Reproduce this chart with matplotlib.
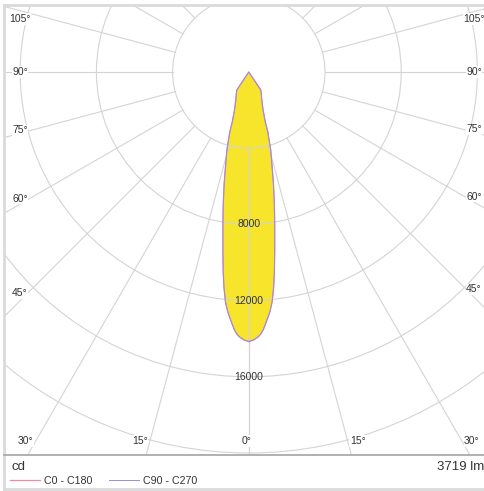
import numpy as np
import matplotlib.pyplot as plt
from matplotlib.patches import Rectangle, Circle

plt.rcParams['font.family'] = ['Liberation Sans', 'DejaVu Sans']

# Luminous intensity (cd) against angle from the downward axis (deg)
angles = [0, 1, 2, 2.6, 3.2, 4, 5, 5.8, 6.6, 7.3, 8.2, 9.2, 9.8, 11.1, 12.5,
          13.8, 15.7, 17.6, 18.3, 20.6, 24.9, 30, 33.7, 37, 60, 90, 120, 150, 180]
c0_c180 = [14150, 14070, 13920, 13770, 13560, 13150, 12650, 12130, 11360, 10580,
           9540, 8510, 7990, 6950, 5970, 5130, 4250, 3300, 2760, 2130, 1620, 1310,
           1130, 0, 0, 0, 0, 0, 0]
c90_c270 = [14150, 14070, 13920, 13770, 13560, 13150, 12650, 12130, 11360, 10580,
            9540, 8510, 7990, 6950, 5970, 5130, 4250, 3300, 2760, 2130, 1620, 1310,
            1130, 0, 0, 0, 0, 0, 0]

rings = [4000, 8000, 12000, 16000, 20000, 24000]
ring_labels = [8000, 12000, 16000]
grid_angles = list(range(0, 181, 15))
label_angles = [0, 15, 30, 45, 60, 75, 90, 105]
flux = '3719 lm'
unit = 'cd'
series_names = ['C0 - C180', 'C90 - C270']

# layout (pixels)
W, H = 485, 491
cx, cy = 248.8, 72.0
s = 4000 / 76.2  # cd per pixel
grid_col = '#d4d4d4'
txt_col = '#333333'


def P(xp, yp):
    return (xp - cx) * s, (cy - yp) * s


def curve(a, vals):
    a = np.radians(np.asarray(a, float))
    v = np.asarray(vals, float)
    # right half (C0 / C90), then mirrored left half (C180 / C270)
    xr, yr = v * np.sin(a), -v * np.cos(a)
    x = np.concatenate([xr, -xr[::-1]])
    y = np.concatenate([yr, yr[::-1]])
    return x, y


fig = plt.figure(figsize=(W / 100, H / 100), dpi=100)
ax = fig.add_axes([0, 0, 1, 1])
ax.set_xlim(-cx * s, (W - cx) * s)
ax.set_ylim(-(H - cy) * s, cy * s)
ax.axis('off')

# plot area
x0, y0 = P(4, 455)
frame = Rectangle((x0, y0), 490 * s, 450.5 * s, fill=False, ec='none')
ax.add_patch(frame)

# light distribution curves
x1, y1 = curve(angles, c0_c180)
x2, y2 = curve(angles, c90_c270)
ax.fill(x1, y1, color='#f6e52a', zorder=1, lw=0)
l1, = ax.plot(x1, y1, color='#f08c9c', lw=0.9, zorder=3, label=series_names[0])
l2, = ax.plot(x2, y2, color='#9a8ce0', lw=0.7, zorder=3, label=series_names[1])

# polar grid
for r in rings:
    c = Circle((0, 0), r, fill=False, ec=grid_col, lw=0.8, zorder=2)
    ax.add_patch(c)
    c.set_clip_path(frame)
for a in grid_angles:
    t = np.radians(a)
    for sg in (-1, 1):
        ln, = ax.plot([sg * 4000 * np.sin(t), sg * 30000 * np.sin(t)],
                      [-4000 * np.cos(t), -30000 * np.cos(t)],
                      color=grid_col, lw=0.8, zorder=2)
        ln.set_clip_path(frame)

# ring values
for r in ring_labels:
    ax.text(0, -r, str(r), ha='center', va='center', fontsize=7.5,
            color=txt_col, zorder=5)

# angle labels along the frame
xl, xr_, yb = 20, 474, 441
for a in label_angles:
    t = np.radians(a)
    for sg in (-1, 1):
        if a == 0 and sg == 1:
            continue
        if np.cos(t) > 0 and (yb - cy) * np.tan(t) < (cx - xl):
            xp = cx + sg * (yb - cy) * np.tan(t) + (sg * 10 if a else -2)
            xp = min(max(xp, xl), xr_)
            yp = yb
        else:
            xp = xl if sg < 0 else xr_
            yp = cy + abs(xp - cx) / np.tan(t) if a != 90 else cy
            yp = max(yp - 11 * np.cos(t), 19)
        ax.text(*P(xp, yp), f'{a}°', ha='center', va='center', fontsize=7.5,
                color=txt_col, zorder=5,
                bbox=dict(fc='white', ec='none', pad=0.4))

# borders
ax.plot(*zip(P(4, 4.5), P(490, 4.5)), color='#dadada', lw=2.0, zorder=6)
ax.plot(*zip(P(4, 4.5), P(4, 489)), color='#dadada', lw=2.0, zorder=6)
ax.plot(*zip(P(4, 489), P(490, 489)), color='#dadada', lw=2.0, zorder=6)
ax.plot(*zip(P(4, 455), P(490, 455)), color='#b0b0b0', lw=1.4, zorder=6)

# footer
fig.text(12 / W, 1 - 467 / H, unit, fontsize=9.5, color=txt_col, va='center', ha='left')
fig.text(484 / W, 1 - 467 / H, flux, fontsize=9.5, color=txt_col, va='center', ha='right')
leg = fig.legend(handles=[l1, l2], loc='center left', bbox_to_anchor=(10 / W, 1 - 481 / H),
                 ncol=2, frameon=False, fontsize=7.7, handlelength=2.8,
                 handletextpad=0.37, columnspacing=1.6, borderpad=0, borderaxespad=0)
for t in leg.get_texts():
    t.set_color(txt_col)

fig.savefig('out.png', dpi=100, facecolor='white')
